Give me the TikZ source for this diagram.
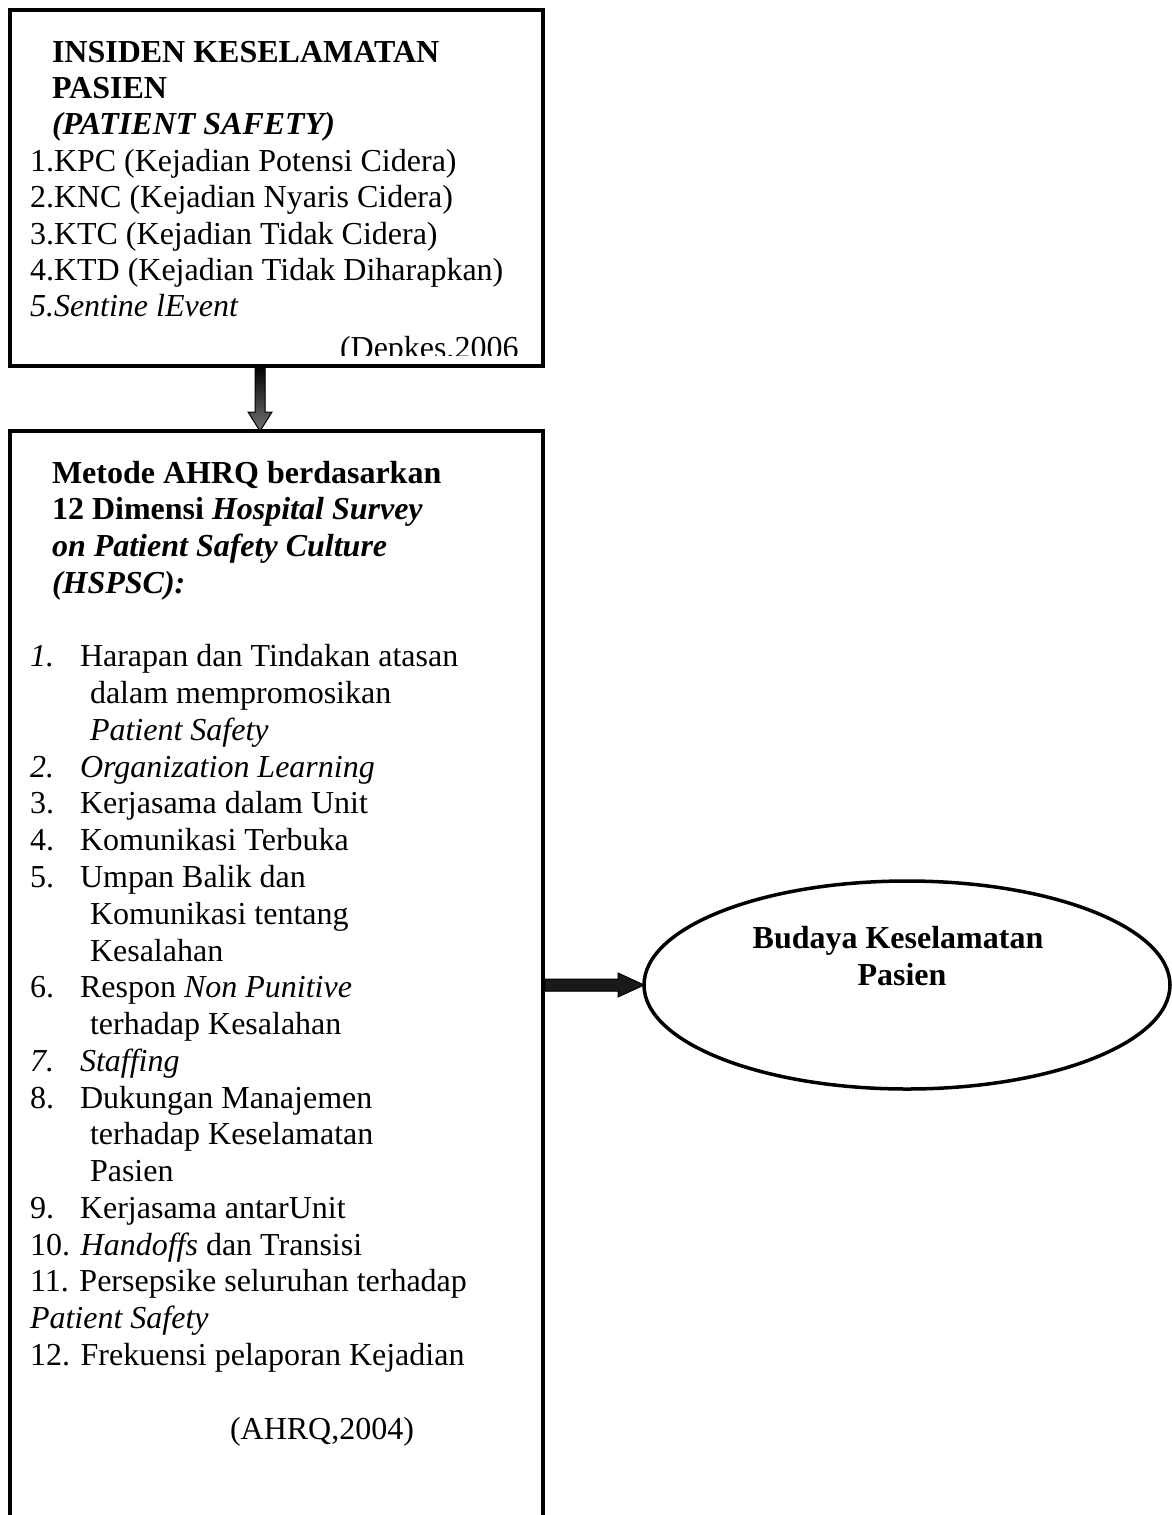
\documentclass[tikz,border=0pt]{standalone}
\usepackage{fontspec}
\setmainfont{Liberation Serif}
\usetikzlibrary{calc,shapes.geometric}
\begin{document}
\begin{tikzpicture}[x=1pt,y=-1pt,
  box/.style={draw=black, line width=4pt, rectangle, inner sep=0pt, outer sep=0pt},
  oval/.style={draw=black, line width=3.5pt, ellipse, inner sep=0pt, outer sep=0pt},
  txt/.style={anchor=base west, inner sep=0pt, outer sep=0pt, font=\fontsize{32}{36.8}\selectfont},
  ctxt/.style={align=center, inner sep=0pt, outer sep=0pt, font=\fontsize{32}{36.8}\selectfont\bfseries},
  arrowbody/.style={draw=black, line width=1pt},
  arrowshadow/.style={fill=black!45, draw=none}]
\useasboundingbox (0,0) rectangle (1172,1515);
\clip (0,0) rectangle (1172,1515);

% boxes
\node[box, minimum width=533pt, minimum height=356pt] (top) at (276.5,188) {};
\node[box, minimum width=533pt, minimum height=1200pt] (bot) at (276.5,1031) {};
\node[oval, minimum width=526pt, minimum height=208pt] (ell) at (907,985) {};

% top box text
\node[txt] (h1) at (52,62) {\textbf{INSIDEN KESELAMATAN}};
\node[txt] (h2) at (52,98.4) {\textbf{PASIEN}};
\node[txt] (h3) at (52,134.8) {\textbf{\textit{(PATIENT SAFETY)}}};
\node[txt] (k1) at (30,171.2) {1.KPC (Kejadian Potensi Cidera)};
\node[txt] (k2) at (30,207.6) {2.KNC (Kejadian Nyaris Cidera)};
\node[txt] (k3) at (30,244) {3.KTC (Kejadian Tidak Cidera)};
\node[txt] (k4) at (30,280.4) {4.KTD (Kejadian Tidak Diharapkan)};
\node[txt] (k5) at (30,316.8) {\textit{5.Sentine lEvent}};
\begin{scope}
\clip (0,0) rectangle (1172,355);
\node[txt] (dep) at (340,358) {(Depkes,2006};
\end{scope}

% bottom box text
\node[txt] (m0) at (52,483) {\textbf{Metode AHRQ berdasarkan}};
\node[txt] (m1) at (52,519.8) {\textbf{12 Dimensi \textit{Hospital Survey}}};
\node[txt] (m2) at (52,556.5) {\textbf{\textit{on Patient Safety Culture}}};
\node[txt] (m3) at (52,593.3) {\textbf{\textit{(HSPSC):}}};

\node[txt] (n1) at (30,666.9) {\textit{1.}};
\node[txt] (d1) at (80,666.9) {Harapan dan Tindakan atasan};
\node[txt] (d1b) at (90,703.6) {dalam mempromosikan};
\node[txt] (d1c) at (90,740.4) {\textit{Patient Safety}};
\node[txt] (n2) at (30,777.2) {\textit{2.}};
\node[txt] (d2) at (80,777.2) {\textit{Organization Learning}};
\node[txt] (n3) at (30,813.9) {3.};
\node[txt] (d3) at (80,813.9) {Kerjasama dalam Unit};
\node[txt] (n4) at (30,850.7) {4.};
\node[txt] (d4) at (80,850.7) {Komunikasi Terbuka};
\node[txt] (n5) at (30,887.5) {5.};
\node[txt] (d5) at (80,887.5) {Umpan Balik dan};
\node[txt] (d5b) at (90,924.2) {Komunikasi tentang};
\node[txt] (d5c) at (90,961) {Kesalahan};
\node[txt] (n6) at (30,997.8) {6.};
\node[txt] (d6) at (80,997.8) {Respon \textit{Non Punitive}};
\node[txt] (d6b) at (90,1034.6) {terhadap Kesalahan};
\node[txt] (n7) at (30,1071.3) {\textit{7.}};
\node[txt] (d7) at (80,1071.3) {\textit{Staffing}};
\node[txt] (n8) at (30,1108) {8.};
\node[txt] (d8) at (80,1108) {Dukungan Manajemen};
\node[txt] (d8b) at (90,1144.9) {terhadap Keselamatan};
\node[txt] (d8c) at (90,1181.6) {Pasien};
\node[txt] (n9) at (30,1218.4) {9.};
\node[txt] (d9) at (80,1218.4) {Kerjasama antarUnit};
\node[txt] (d10) at (30,1255.2) {10. \textit{Handoffs} dan Transisi};
\node[txt] (d11) at (30,1291.9) {11. Persepsike seluruhan terhadap};
\node[txt] (d11b) at (30,1328.7) {\textit{Patient Safety}};
\node[txt] (d12) at (30,1365.5) {12. Frekuensi pelaporan Kejadian};
\node[txt] (ahrq) at (230,1439) {(AHRQ,2004)};

% ellipse text
\node[ctxt] (et) at (898,956) {Budaya Keselamatan\\ \ Pasien};

% down block arrow
\foreach \sty/\dx/\dy in {arrowshadow/2.5pt/-3pt, arrowbody/0pt/0pt}{
  \path[\sty, xshift=\dx, yshift=\dy, top color=black, bottom color=black!55]
    let \p1=([xshift=-16.5pt]top.south), \p2=([xshift=-16.5pt]bot.north) in
    (\x1-5pt,\y1) -- (\x1+5pt,\y1) -- (\x1+5pt,\y2+19pt) -- (\x1+12pt,\y2+19pt)
    -- (\x2,\y2) -- (\x1-12pt,\y2+19pt) -- (\x1-5pt,\y2+19pt) -- cycle;
}
% right block arrow
\foreach \sty/\dx/\dy in {arrowshadow/2.5pt/-3pt, arrowbody/0pt/0pt}{
  \path[\sty, xshift=\dx, yshift=\dy, top color=black!90, middle color=black!55, bottom color=black!90]
    let \p1=(bot.east |- ell.west), \p2=(ell.west) in
    (\x1+2pt,\y1+6pt) -- (\x2-26pt,\y1+6pt) -- (\x2-26pt,\y1+12pt) -- (\x2,\y2)
    -- (\x2-26pt,\y1-12pt) -- (\x2-26pt,\y1-6pt) -- (\x1+2pt,\y1-6pt) -- cycle;
}
\end{tikzpicture}
\end{document}
